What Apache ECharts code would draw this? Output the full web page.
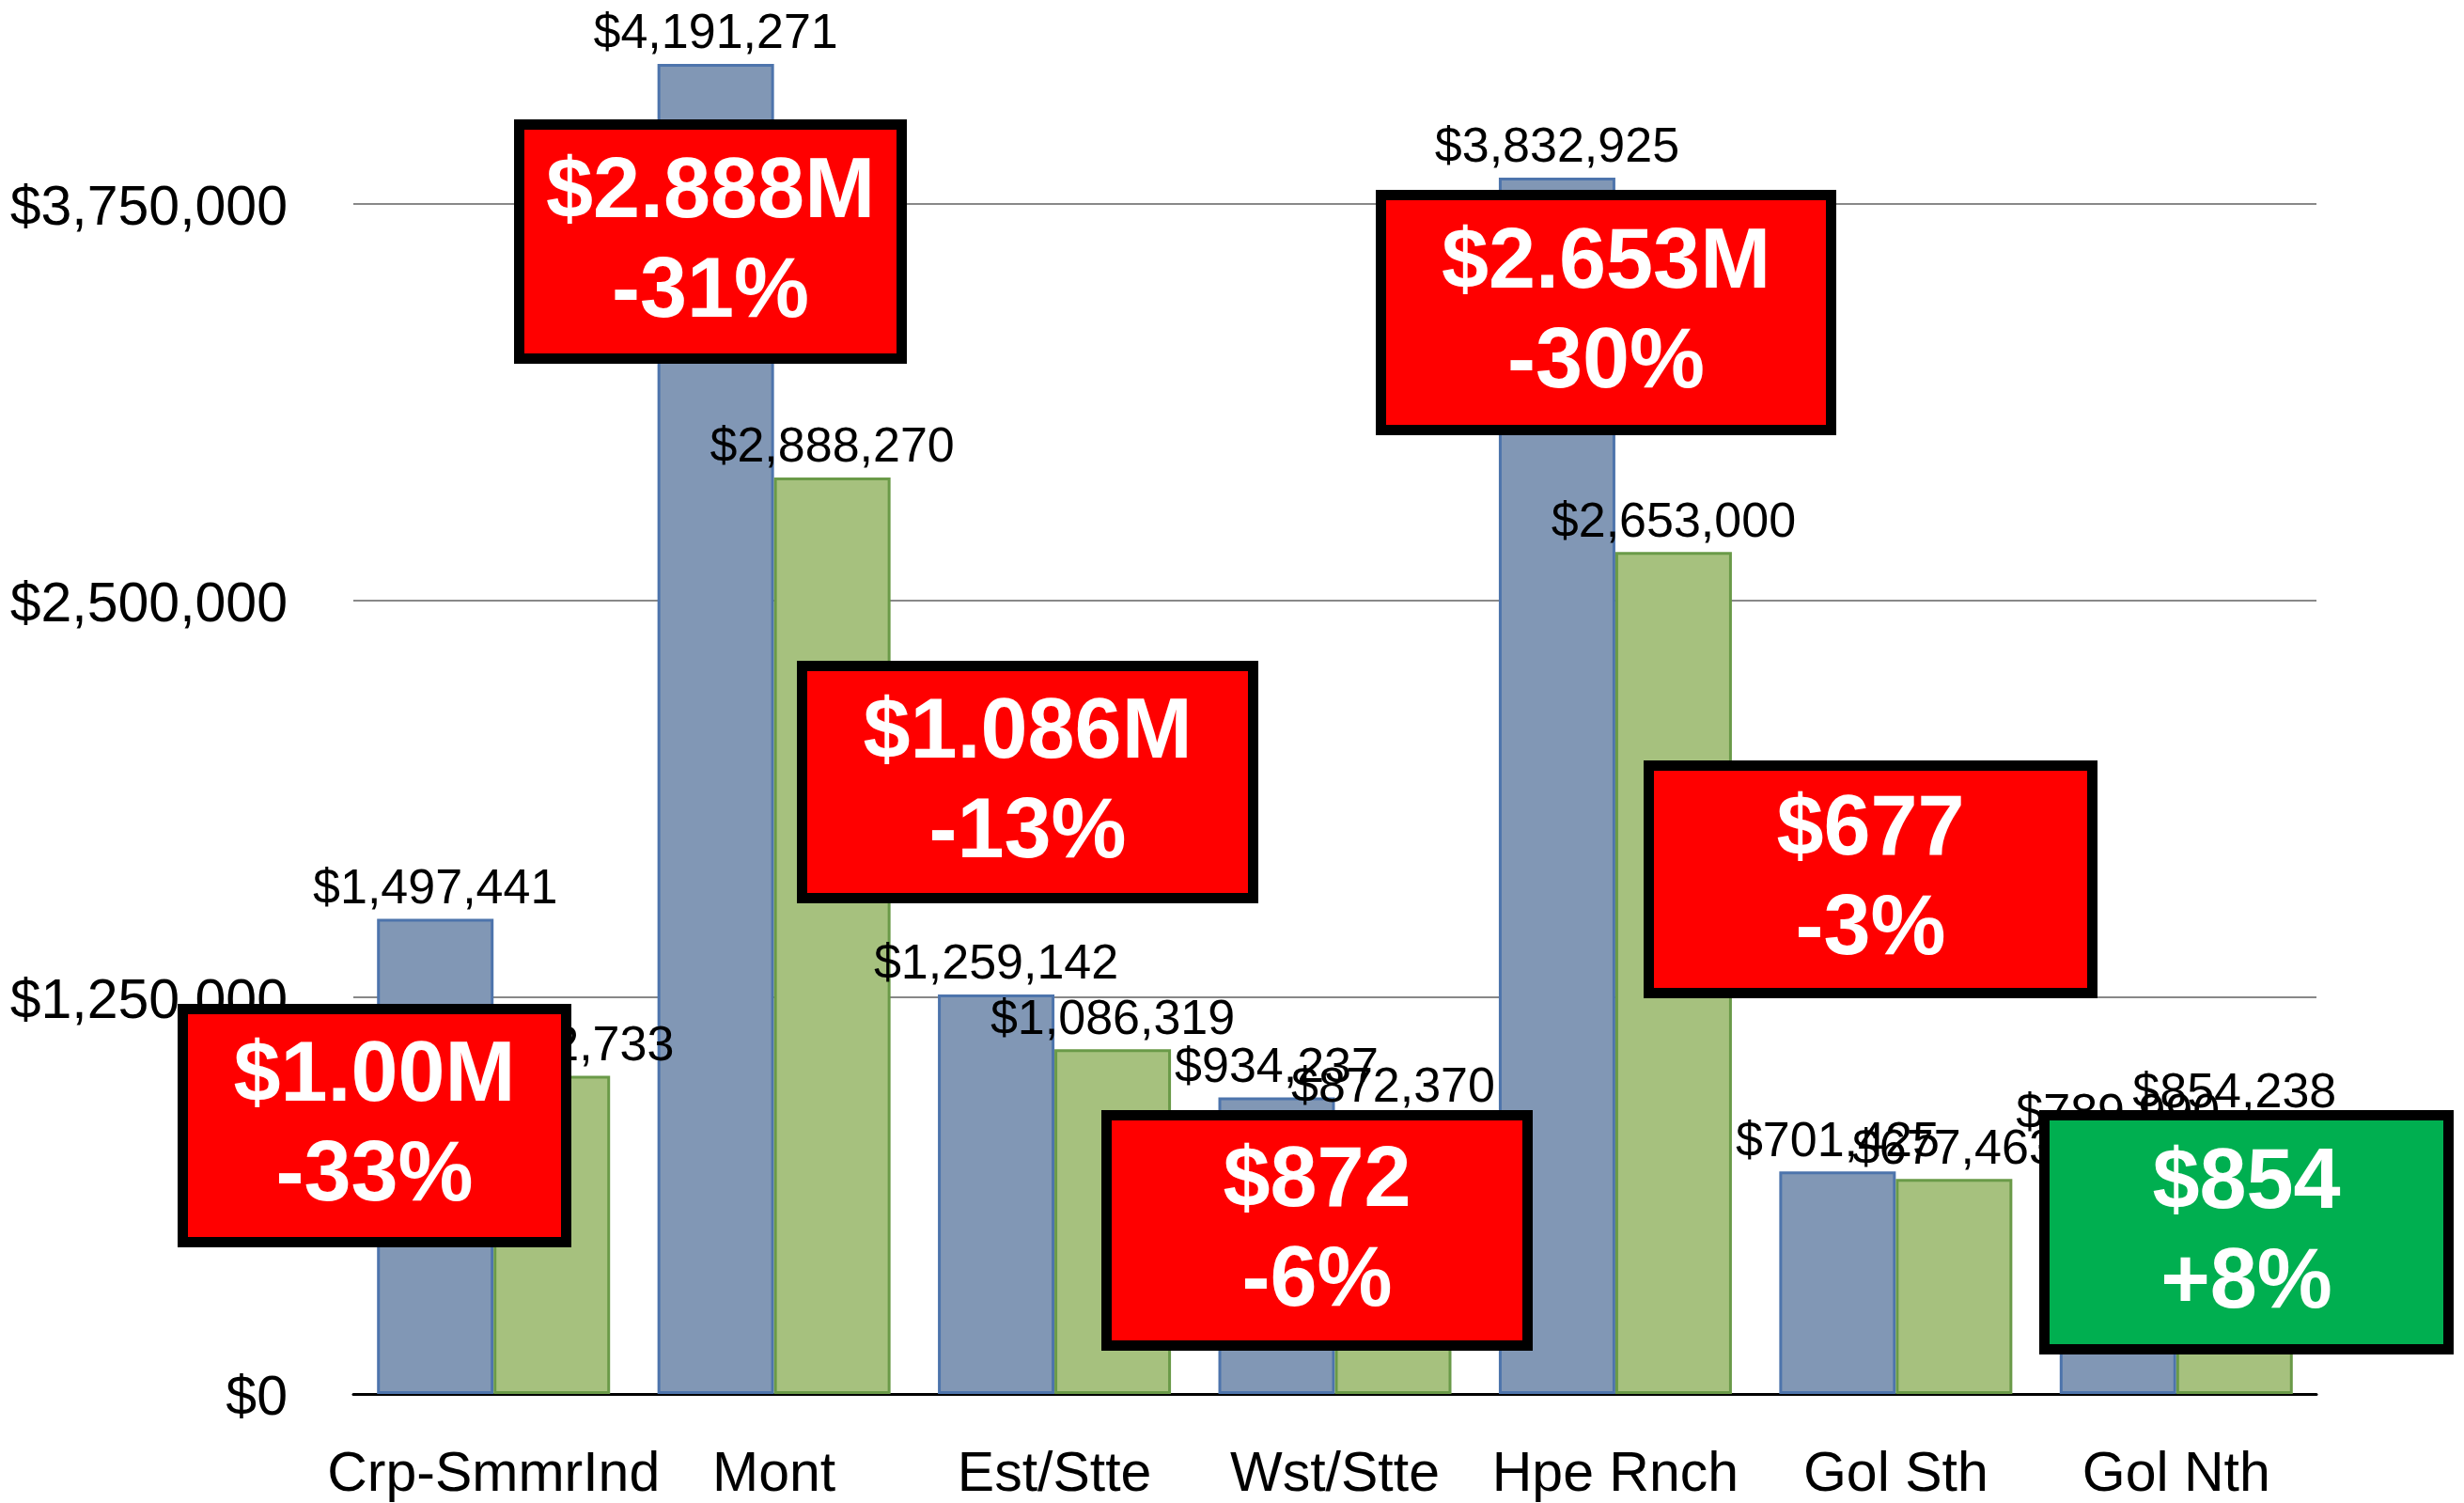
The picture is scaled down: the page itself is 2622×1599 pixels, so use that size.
<!DOCTYPE html>
<html>
<head>
<meta charset="utf-8">
<script src="https://cdn.jsdelivr.net/npm/echarts@6/dist/echarts.min.js"></script>
<style>
html,body{margin:0;padding:0;background:#fff;}
#chart{width:2622px;height:1599px;}
</style>
</head>
<body>
<div id="chart"></div>
<script>
// ---- data ----
var categories = ['Crp-SmmrInd', 'Mont', 'Est/Stte', 'Wst/Stte', 'Hpe Rnch', 'Gol Sth', 'Gol Nth'];
var seriesBlue = [1497441, 4191271, 1259142, 934237, 3832925, 701425, 789990];
var seriesGreen = [1002733, 2888270, 1086319, 872370, 2653000, 677463, 854238];
var yTicks = [0, 1250000, 2500000, 3750000];
var yAxisMax = 4375000;
var boxValueText = ['$1.00M', '$2.888M', '$1.086M', '$872', '$2.653M', '$677', '$854'];
var boxPctText = ['-33%', '-31%', '-13%', '-6%', '-30%', '-3%', '+8%'];
var boxIsGain = [false, false, false, false, false, false, true];

// ---- annotation box layout (outer edges, px) ----
var boxLayout = [
  {x0: 189, y0: 1068, x1: 608, y1: 1327},
  {x0: 547, y0: 127, x1: 965, y1: 387},
  {x0: 848, y0: 703, x1: 1339, y1: 961},
  {x0: 1172, y0: 1181, x1: 1631, y1: 1437},
  {x0: 1464, y0: 202, x1: 1954, y1: 463},
  {x0: 1749, y0: 809, x1: 2232, y1: 1062},
  {x0: 2170, y0: 1181, x1: 2611, y1: 1441}
];

function money(v) {
  var s = Math.round(v).toString().replace(/\B(?=(\d{3})+(?!\d))/g, ',');
  return '$' + s;
}

var FONT = '"Liberation Sans", Arial, Helvetica, sans-serif';
var BW = 11;

var graphics = boxLayout.map(function (b, i) {
  var w = b.x1 - b.x0 - BW, h = b.y1 - b.y0 - BW;
  return {
    type: 'group',
    x: b.x0 + BW / 2,
    y: b.y0 + BW / 2,
    zlevel: 2,
    z: 100,
    children: [
      {
        type: 'rect',
        z: 100,
        zlevel: 2,
        shape: {x: 0, y: 0, width: w, height: h},
        style: {fill: boxIsGain[i] ? '#00AF50' : '#FF0000', stroke: '#000', lineWidth: BW}
      },
      {
        type: 'text',
        z: 101,
        zlevel: 2,
        x: w / 2,
        y: h / 2 + 2,
        style: {
          text: boxValueText[i] + '\n' + boxPctText[i],
          fill: '#fff',
          fontFamily: FONT,
          fontWeight: 'bold',
          fontSize: 90,
          lineHeight: 106,
          align: 'center',
          verticalAlign: 'middle'
        }
      }
    ]
  };
});

var chart = echarts.init(document.getElementById('chart'), null, {renderer: 'canvas'});
chart.setOption({
  animation: false,
  backgroundColor: '#fff',
  textStyle: {fontFamily: FONT},
  grid: {left: 376, right: 157, top: 6, bottom: 116, containLabel: false},
  xAxis: {
    type: 'category',
    data: categories,
    axisTick: {show: false},
    axisLine: {show: true, lineStyle: {color: '#000', width: 3}},
    axisLabel: {fontSize: 59, color: '#000', margin: 57, fontFamily: FONT, interval: 0}
  },
  yAxis: {
    type: 'value',
    min: yTicks[0],
    max: yAxisMax,
    interval: yTicks[1] - yTicks[0],
    axisLine: {show: false},
    axisTick: {show: false},
    splitLine: {show: true, showMaxLine: false, lineStyle: {color: '#888888', width: 2}},
    axisLabel: {fontSize: 59, color: '#000', margin: 70, fontFamily: FONT, showMaxLabel: false,
      formatter: function (v) { return yTicks.indexOf(v) >= 0 ? '{t|' + money(v) + '}' : ''; },
      rich: {t: {fontSize: 59, color: '#000', fontFamily: FONT, padding: [12, 0, 0, 0]}}}
  },
  series: [
    {
      type: 'bar',
      data: seriesBlue,
      barWidth: 124,
      barGap: '0%',
      itemStyle: {color: '#8197B5', borderColor: '#4D74AC', borderWidth: 3},
      label: {show: true, position: 'top', distance: 5, fontSize: 52, color: '#000', fontFamily: FONT,
        formatter: function (p) { return money(p.value); }}
    },
    {
      type: 'bar',
      data: seriesGreen,
      barWidth: 124,
      barGap: '0%',
      itemStyle: {color: '#A6C17E', borderColor: '#6A9A48', borderWidth: 3},
      label: {show: true, position: 'top', distance: 5, fontSize: 52, color: '#000', fontFamily: FONT,
        formatter: function (p) { return money(p.value); }}
    }
  ],
  graphic: graphics
});
</script>
</body>
</html>
